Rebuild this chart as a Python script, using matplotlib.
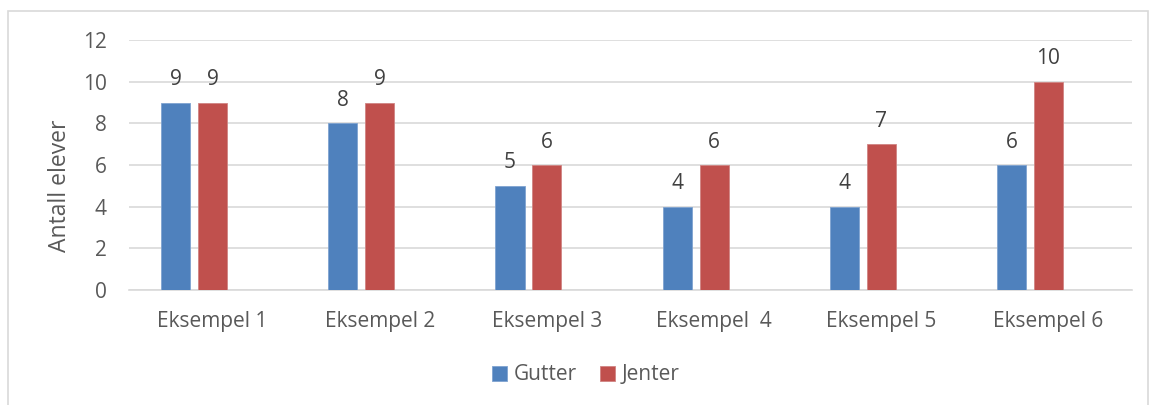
import matplotlib.pyplot as plt
import matplotlib.patches as mpatches
import numpy as np

categories = ["Eksempel 1", "Eksempel 2", "Eksempel 3", "Eksempel  4", "Eksempel 5", "Eksempel 6"]
gutter = [9, 8, 5, 4, 4, 6]
jenter = [9, 9, 6, 6, 7, 10]

BLUE = "#4F81BD"
RED = "#C0504D"
GRID = "#D9D9D9"
TEXT = "#595959"

plt.rcParams["font.family"] = ["Open Sans", "DejaVu Sans"]

fig = plt.figure(figsize=(11.49, 4.05), dpi=100)
ax = fig.add_axes([129 / 1149, 1 - 290 / 405, (1132 - 129) / 1149, 250 / 405])

x = np.arange(len(categories))
width = 0.174
offset = 0.221

b1 = ax.bar(x - offset, gutter, width, color=BLUE, edgecolor="#7FA3D0", linewidth=0.6, label="Gutter", zorder=3)
b2 = ax.bar(x, jenter, width, color=RED, edgecolor="#D08483", linewidth=0.6, label="Jenter", zorder=3)

for bars, vals in ((b1, gutter), (b2, jenter)):
    for rect, v in zip(bars, vals):
        ax.annotate(str(v), (rect.get_x() + rect.get_width() / 2, v),
                    xytext=(0, 9), textcoords="offset points",
                    ha="center", va="bottom", fontsize=15, color="#404040")

ax.set_xlim(-0.5, len(categories) - 0.5)
ax.set_ylim(0, 12)
ax.set_yticks(range(0, 13, 2))
ax.set_xticks(x)
ax.set_xticklabels(categories)
ax.yaxis.grid(True, color=GRID, linewidth=1.2)
ax.set_axisbelow(True)
for s in ("top", "right", "left"):
    ax.spines[s].set_visible(False)
ax.spines["bottom"].set_color(GRID)
ax.spines["bottom"].set_linewidth(1.2)
ax.tick_params(axis="both", length=0, labelsize=15, colors=TEXT)
ax.tick_params(axis="y", pad=16)
ax.tick_params(axis="x", pad=15)
ax.set_ylabel("Antall elever", fontsize=16.5, color=TEXT)
ax.yaxis.set_label_coords(-57 / 1003, 0.416)

# outer chart frame
fig.patches.append(mpatches.Rectangle((8 / 1149, -0.01), 1140 / 1149, 1 - 11 / 405 + 0.01,
                                      transform=fig.transFigure, fill=False,
                                      edgecolor=GRID, linewidth=1.2))

fig.legend(handles=[b1, b2], loc="center", bbox_to_anchor=(586 / 1149, 1 - 375 / 405),
           ncol=2, frameon=False, fontsize=15, labelcolor=TEXT,
           handlelength=0.7, handleheight=0.7, handletextpad=0.35, columnspacing=1.1)

fig.savefig("out.png", dpi=100)
